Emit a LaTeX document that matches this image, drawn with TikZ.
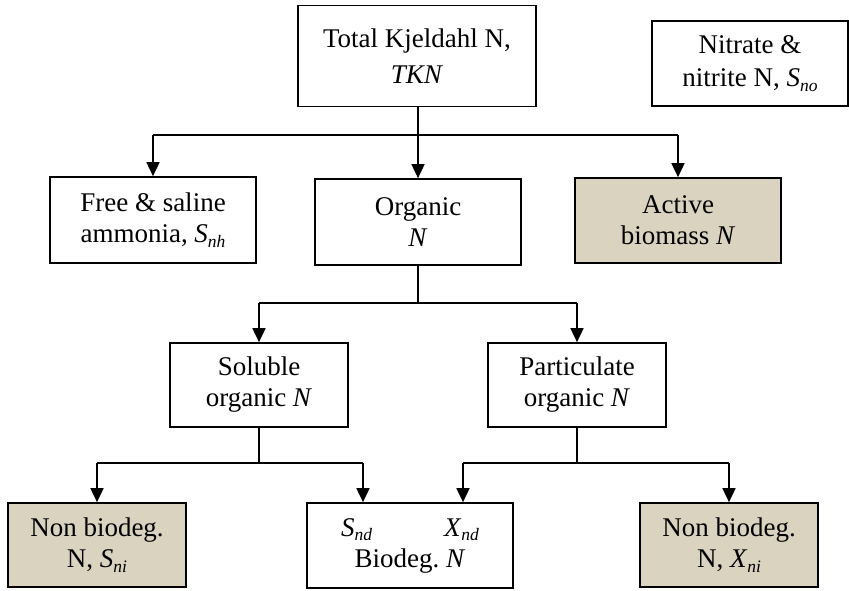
\documentclass[tikz,border=0pt]{standalone}
\usepackage{fontspec}
\setmainfont{Liberation Serif}
\usetikzlibrary{arrows.meta}
\frenchspacing
\definecolor{beige}{RGB}{217,211,192}
\newcommand{\subx}[2]{\textit{#1}\raisebox{-0.35ex}{\fontsize{17.5}{17.5}\selectfont\textit{#2}}}
\tikzset{
  box/.style={draw=black, line width=1.7pt, rectangle, inner sep=0pt, align=center,
    font=\fontsize{27}{31}\selectfont},
  shaded/.style={box, fill=beige},
  conn/.style={line width=1.7pt},
  arr/.style={conn, -{Triangle[width=13pt,length=14pt]}}
}
\begin{document}
\begin{tikzpicture}[x=1pt,y=-1pt]
\useasboundingbox (0,0) rectangle (849,590);
\node[box, minimum width=238pt, minimum height=101pt, font=\fontsize{27}{36}\selectfont] (tkn) at (417,56) {Total Kjeldahl N,\\\textit{TKN}};
\node[box, minimum width=196pt, minimum height=85pt, font=\fontsize{27}{33}\selectfont] (nit) at (750,63.5) {Nitrate \&\\nitrite N, \subx{S}{no}};
\node[box, minimum width=206pt, minimum height=86pt] (free) at (153,220) {Free \& saline\\ammonia, \subx{S}{nh}};
\node[box, minimum width=206pt, minimum height=86pt] (org) at (418,222) {Organic\\\textit{N}};
\node[shaded, minimum width=206pt, minimum height=85pt] (act) at (678,220.5) {Active\\biomass \textit{N}};
\node[box, minimum width=178pt, minimum height=84pt] (sol) at (259,385) {Soluble\\organic \textit{N}};
\node[box, minimum width=178pt, minimum height=84pt] (par) at (577,385) {Particulate\\organic \textit{N}};
\node[shaded, minimum width=178pt, minimum height=84pt] (sni) at (97,545) {Non biodeg.\\N, \subx{S}{ni}};
\node[box, minimum width=206pt, minimum height=85pt] (bio) at (410,545.5) {\subx{S}{nd}\hspace{72pt}\subx{X}{nd}\\[0pt]Biodeg.\ \textit{N}};
\node[shaded, minimum width=178pt, minimum height=84pt] (xni) at (729,545) {Non biodeg.\\N, \subx{X}{ni}};

\coordinate (b1) at (418,135);
\coordinate (b2) at (418,303);
\coordinate (b3) at (259,463);
\coordinate (b4) at (577,463);
\coordinate (bioL) at (363,463);
\coordinate (bioR) at (463,463);

\draw[conn] (tkn.south -| b1) -- (b1);
\draw[conn] (free.north |- b1) -- (act.north |- b1);
\draw[arr] (free.north |- b1) -- (free.north);
\draw[arr] (b1) -- (org.north);
\draw[arr] (act.north |- b1) -- (act.north);

\draw[conn] (org.south) -- (b2);
\draw[conn] (sol.north |- b2) -- (par.north |- b2);
\draw[arr] (sol.north |- b2) -- (sol.north);
\draw[arr] (par.north |- b2) -- (par.north);

\draw[conn] (sol.south) -- (b3);
\draw[conn] (sni.north |- b3) -- (bioL);
\draw[arr] (sni.north |- b3) -- (sni.north);
\draw[arr] (bioL) -- (bioL |- bio.north);

\draw[conn] (par.south) -- (b4);
\draw[conn] (bioR) -- (xni.north |- b4);
\draw[arr] (bioR) -- (bioR |- bio.north);
\draw[arr] (xni.north |- b4) -- (xni.north);
\end{tikzpicture}
\end{document}
